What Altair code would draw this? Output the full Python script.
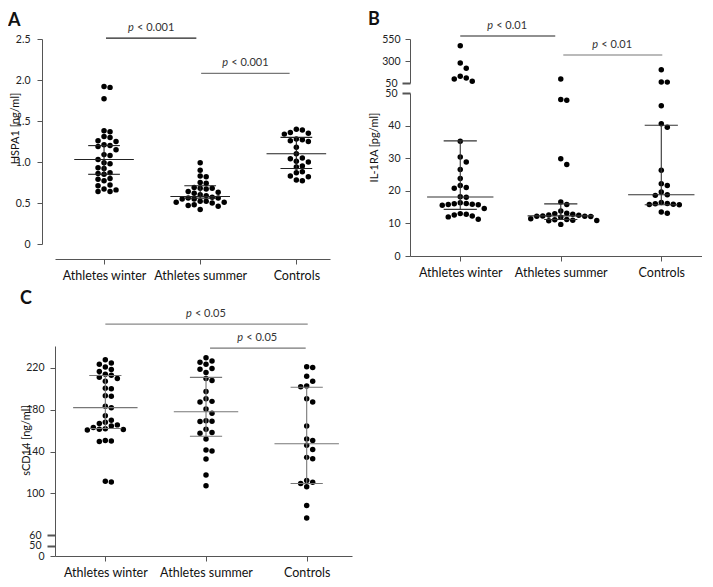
import altair as alt
import numpy as np
import pandas as pd

groups = ["Athletes winter", "Athletes summer", "Controls"]

# ---------------- Panel A: HSPA1 [ng/ml] ----------------
hspa1_winter = [1.92, 1.91, 1.77, 1.38, 1.37, 1.31, 1.30, 1.26, 1.25, 1.21, 1.20, 1.19,
                1.15, 1.09, 1.08, 1.03, 0.99, 0.98, 0.93, 0.92, 0.87, 0.86, 0.85, 0.80,
                0.79, 0.77, 0.72, 0.71, 0.67, 0.66, 0.64, 0.64]
hspa1_summer = [0.99, 0.90, 0.83, 0.82, 0.75, 0.74, 0.69, 0.68, 0.68, 0.67, 0.64, 0.63,
                0.62, 0.60, 0.59, 0.57, 0.56, 0.56, 0.55, 0.55, 0.52, 0.52, 0.51, 0.51,
                0.50, 0.48, 0.47, 0.46, 0.42]
hspa1_controls = [1.40, 1.39, 1.36, 1.35, 1.34, 1.28, 1.27, 1.26, 1.25, 1.18, 1.10, 1.05,
                  1.04, 1.01, 1.00, 0.95, 0.94, 0.88, 0.87, 0.83, 0.82, 0.78, 0.77]
hspa1_median = [1.03, 0.58, 1.10]
hspa1_q1 = [0.85, 0.56, 0.92]
hspa1_q3 = [1.20, 0.71, 1.30]
hspa1_p = ["p < 0.001", "p < 0.001"]
hspa1_pairs = [(0.02, 0.96, 2.51), (1.01, 1.93, 2.08)]
hspa1_ticks = [0, 0.5, 1.0, 1.5, 2.0, 2.5]

# ---------------- Panel B: IL-1RA [pg/ml] ----------------
il1ra_winter = [474, 277, 217, 126, 107, 95, 69, 35.2, 30.4, 28.8, 26.5, 23.8, 21.6, 21.0,
                20.8, 18.2, 18.0, 16.3, 16.1, 16.0, 15.8, 15.7, 15.6, 15.9, 14.6, 13.0,
                12.8, 12.6, 12.3, 12.0, 11.3]
il1ra_summer = [95, 48.0, 47.8, 29.8, 28.1, 16.6, 15.8, 13.8, 13.1, 12.8, 12.3, 12.2, 12.1,
                11.9, 12.2, 12.5, 12.6, 13.0, 11.2, 11.1, 10.8, 11.0, 10.9, 11.4, 9.7]
il1ra_controls = [201, 61, 60, 46.1, 40.6, 39.5, 26.3, 22.2, 21.6, 19.6, 18.8, 18.6, 16.0,
                  15.8, 15.7, 15.9, 16.1, 16.4, 13.5, 13.1]
il1ra_median = [18.1, 12.3, 18.8]
il1ra_q1 = [14.3, 11.2, 15.7]
il1ra_q3 = [35.3, 16.0, 40.1]
il1ra_p = ["p < 0.01", "p < 0.01"]
il1ra_pairs = [(0.0, 0.945, 584), (1.025, 2.01, 368)]
il1ra_ticks_low = [0, 10, 20, 30, 40, 50]
il1ra_ticks_high = [50, 300, 550]

# ---------------- Panel C: sCD14 [ng/ml] ----------------
scd14_winter = [227.8, 224.8, 223.5, 221, 218.6, 216.5, 214, 213, 211, 210, 207.3, 200.6,
                200, 193.5, 193, 183.4, 181.8, 174.2, 170, 168, 166.8, 165.5, 164.4, 163,
                161.3, 161, 160.5, 161.8, 150, 149.5, 150.5, 110.8, 111.5]
scd14_summer = [229.7, 226.6, 225.5, 223.6, 219.5, 218.8, 215.6, 209.8, 208, 197.5, 190.5,
                188, 187.5, 180.6, 176.7, 169.5, 169, 168.8, 161.3, 158.3, 157.5, 152,
                141.4, 140.5, 132.8, 117.5, 107.2]
scd14_controls = [221.1, 220.5, 212, 207.3, 202.7, 202, 190.5, 187.4, 164.4, 152.1, 150.6,
                  146, 142, 134.4, 133.1, 112.3, 110.5, 109.5, 106.2, 88.4, 76.3]
scd14_median = [182, 178, 147.5]
scd14_q1 = [162, 154.6, 109.4]
scd14_q3 = [212.8, 211, 201.5]
scd14_p = ["p < 0.05", "p < 0.05"]
scd14_pairs = [(0.0, 2.01, 262), (1.04, 1.99, 239)]
scd14_ticks = [40, 50, 60, 100, 140, 180, 220]

# ---------------- style ----------------
FONT = "Lato"
DOT = 6.0
DOT_SIZE = 30
AXIS_COL = "#555555"
YLAB = 10.5
label_expr = "[" + ",".join("'%s'" % g for g in groups) + "][datum.value]"


def swarm(ypx, d=DOT):
    ypx = np.asarray(ypx, float)
    order = np.argsort(ypx, kind="stable")
    cols = np.zeros(len(ypx))
    placed = []
    cand = [0] + [s * m for m in range(1, 40) for s in (1, -1)]
    for i in order:
        for c in cand:
            if all(pc != c or abs(py - ypx[i]) >= d * 0.95 for pc, py in placed):
                cols[i] = c
                placed.append((c, ypx[i]))
                break
    return cols * d


def points_df(series, ypx_fn, xppu):
    rows = []
    for gi, vals in enumerate(series):
        off = swarm([ypx_fn(v) for v in vals])
        for v, o in zip(vals, off):
            rows.append({"group": groups[gi], "x": gi + o / xppu, "value": v})
    return pd.DataFrame(rows)


def summary_df(med, q1, q3, wm, wq):
    rows = []
    for i in range(len(med)):
        rows += [
            {"x1": i - wm, "x2": i + wm, "y1": med[i], "y2": med[i]},
            {"x1": i - wq, "x2": i + wq, "y1": q1[i], "y2": q1[i]},
            {"x1": i - wq, "x2": i + wq, "y1": q3[i], "y2": q3[i]},
            {"x1": i, "x2": i, "y1": q1[i], "y2": q3[i]},
        ]
    return pd.DataFrame(rows)


def bracket_df(pairs, labels, colors):
    return pd.DataFrame([
        {"x1": a, "x2": b, "xm": (a + b) / 2, "y": y, "p": lab[0], "rest": lab[2:], "col": c}
        for (a, b, y), lab, c in zip(pairs, labels, colors)
    ])


class Panel:
    def __init__(self, xs, ys, xaxis, yaxis):
        self.xs, self.ys, self.xaxis, self.yaxis = xs, ys, xaxis, yaxis

    def X(self, field):
        return alt.X(field, scale=self.xs, axis=self.xaxis)

    def Y(self, field):
        return alt.Y(field, scale=self.ys, axis=self.yaxis)

    def points(self, df):
        return alt.Chart(df).mark_circle(size=DOT_SIZE, color="black", opacity=1).encode(
            x=self.X("x:Q"), y=self.Y("value:Q"))

    def summary(self, df, color):
        return alt.Chart(df).mark_rule(color=color, strokeWidth=1.1).encode(
            x=self.X("x1:Q"), x2="x2:Q", y=self.Y("y1:Q"), y2="y2:Q")

    def brackets(self, df, nchar):
        half = 5.15 * nchar / 2
        rules = alt.Chart(df).mark_rule(strokeWidth=1.2).encode(
            x=self.X("x1:Q"), x2="x2:Q", y=self.Y("y:Q"),
            color=alt.Color("col:N", scale=None))
        ptxt = alt.Chart(df).mark_text(font=FONT, fontSize=11, fontStyle="italic", align="left",
                                       baseline="alphabetic", dy=-7, dx=-half,
                                       color="#333").encode(
            x=self.X("xm:Q"), y=self.Y("y:Q"), text="p:N")
        rtxt = alt.Chart(df).mark_text(font=FONT, fontSize=11, align="left",
                                       baseline="alphabetic", dy=-7, dx=-half + 9,
                                       color="#333").encode(
            x=self.X("xm:Q"), y=self.Y("y:Q"), text="rest:N")
        return [rules, ptxt, rtxt]


def letter_layer(letter, x, y):
    return alt.Chart(pd.DataFrame({"t": [letter]})).mark_text(
        x=x, y=y, align="left", baseline="top", fontSize=18, fontWeight="bold",
        font=FONT, color="#111").encode(text="t:N")


def x_axis(offset):
    return alt.Axis(values=[0, 1, 2], labelExpr=label_expr, title=None, offset=offset,
                    labelFontSize=12.5, labelPadding=5, labelAngle=0, labelColor="#111",
                    labelFlush=False)


def break_cond(test, on, off):
    return {"condition": {"test": test, "value": on}, "value": off}


# ---------------- Panel A ----------------
WA, HA = 275, 205
xdomA = [-0.51, 2.35]
xppuA = WA / (xdomA[1] - xdomA[0])
dfA = points_df([hspa1_winter, hspa1_summer, hspa1_controls],
                lambda v: (2.5 - v) * HA / 2.5, xppuA)
yaxA = alt.Axis(values=hspa1_ticks,
                labelExpr="datum.value == 0 ? '0' : format(datum.value, '.1f')",
                title="HSPA1 [ng/ml]", offset=13, titleX=-22, titleY=89,
                titleAngle=270, titleAlign="center", titleBaseline="bottom",
                labelOverlap=False, labelFontSize=YLAB, labelPadding=7)
pA = Panel(alt.Scale(domain=xdomA, nice=False, zero=False),
           alt.Scale(domain=[0, 2.5], nice=False, zero=False), x_axis(15), yaxA)
A = alt.layer(
    pA.points(dfA),
    pA.summary(summary_df(hspa1_median, hspa1_q1, hspa1_q3, 0.31, 0.165), "#222"),
    *pA.brackets(bracket_df(hspa1_pairs, hspa1_p, ["#222", "#777"]), 9),
    letter_layer("A", -47, -27),
).properties(width=WA, height=HA)

# ---------------- Panel B ----------------
WB = 292
xdomB = [-0.5, 2.405]
xppuB = WB / (xdomB[1] - xdomB[0])
HBt, HBb, GAPB = 44, 163, 10


def ypxB(v):
    if v > 50:
        return (550 - v) * HBt / 500
    return HBt + GAPB + (50 - v) * HBb / 50


dfB = points_df([il1ra_winter, il1ra_summer, il1ra_controls], ypxB, xppuB)
dfBt = dfB[dfB["value"] > 50]
dfBb = dfB[dfB["value"] <= 50]
yaxBt = alt.Axis(values=il1ra_ticks_high, title=None, labelOverlap=False, labelFontSize=YLAB,
                 tickSize=break_cond("datum.value == 50", 8, 5),
                 tickWidth=break_cond("datum.value == 50", 2, 1))
yaxBb = alt.Axis(values=il1ra_ticks_low, title="IL-1RA [pg/ml]", titleX=-31, titleY=54,
                 titleAngle=270, titleAlign="center", titleBaseline="bottom",
                 labelOverlap=False, labelFontSize=YLAB,
                 tickSize=break_cond("datum.value == 50", 8, 5),
                 tickWidth=break_cond("datum.value == 50", 2, 1))
xsB = alt.Scale(domain=xdomB, nice=False, zero=False)
pBt = Panel(xsB, alt.Scale(domain=[50, 550], nice=False, zero=False), None, yaxBt)
pBb = Panel(xsB, alt.Scale(domain=[0, 50], nice=False, zero=False), x_axis(0), yaxBb)
Btop = alt.layer(
    pBt.points(dfBt),
    *pBt.brackets(bracket_df(il1ra_pairs, il1ra_p, ["#222", "#777"]), 8),
    letter_layer("B", -42, -28),
).properties(width=WB, height=HBt)
Bbot = alt.layer(
    pBb.points(dfBb),
    pBb.summary(summary_df(il1ra_median, il1ra_q1, il1ra_q3, 0.33, 0.165), "#333"),
).properties(width=WB, height=HBb)
B = alt.vconcat(Btop, Bbot, spacing=GAPB, bounds="flush")

# ---------------- Panel C ----------------
WC, HC = 297, 210
xdomC = [-0.5, 2.45]
ydomC = [40, 241]
xppuC = WC / (xdomC[1] - xdomC[0])
dfC = points_df([scd14_winter, scd14_summer, scd14_controls],
                lambda v: (ydomC[1] - v) * HC / (ydomC[1] - ydomC[0]), xppuC)
is_break = "datum.value == 50 || datum.value == 60"
yaxC = alt.Axis(values=scd14_ticks, labelExpr="datum.value == 40 ? '0' : datum.label",
                title="sCD14 [ng/ml]", titleX=-24, titleY=94,
                titleAngle=270, titleAlign="center", titleBaseline="bottom",
                labelOverlap=False, labelFontSize=YLAB, labelPadding=6,
                tickSize=break_cond(is_break, 8, 5), tickWidth=break_cond(is_break, 2, 1))
pC = Panel(alt.Scale(domain=xdomC, nice=False, zero=False),
           alt.Scale(domain=ydomC, nice=False, zero=False), x_axis(0), yaxC)
C = alt.layer(
    pC.points(dfC),
    pC.summary(summary_df(scd14_median, scd14_q1, scd14_q3, 0.32, 0.16), "#777"),
    *pC.brackets(bracket_df(scd14_pairs, scd14_p, ["#888", "#777"]), 8),
    letter_layer("C", -35, -56),
).properties(width=WC, height=HC)

row1 = alt.hconcat(A, B, spacing=38)
chart = alt.vconcat(row1, C, spacing=8).properties(
    padding={"left": 0, "top": 3, "right": 0, "bottom": 0}
).configure_view(
    stroke=None
).configure_axis(
    grid=False, domainColor=AXIS_COL, tickColor=AXIS_COL, domainWidth=1,
    labelFont=FONT, titleFont=FONT, labelColor="#222", titleColor="#111",
    titleFontWeight="normal", titleFontSize=11, labelPadding=5, tickSize=5,
)

chart.save("out.html", embed_options={"renderer": "svg", "actions": False})
